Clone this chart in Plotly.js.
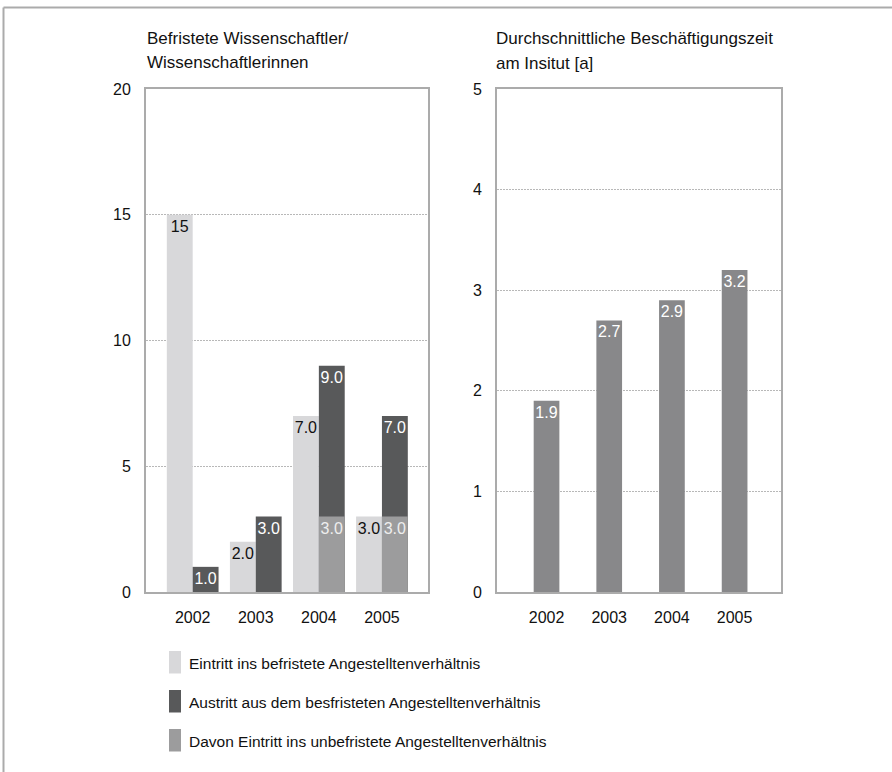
<!DOCTYPE html>
<html>
<head>
<meta charset="utf-8">
<script src="https://cdn.plot.ly/plotly-3.0.1.min.js"></script>
<style>
  html, body { margin: 0; padding: 0; background: #fff; }
  #chart { width: 892px; height: 772px; }
</style>
</head>
<body>
<div id="chart"></div>
<script>
// Jahre
const years = ['2002', '2003', '2004', '2005'];

// Befristete Wissenschaftler/Wissenschaftlerinnen (Personen)
const eintritt = [15, 2, 7, 3];
const austritt = [1, 3, 9, 7];
const davonUnbefristet = [0, 0, 3, 3];

// Durchschnittliche Beschäftigungszeit am Institut (Jahre)
const beschaeftigungszeit = [1.9, 2.7, 2.9, 3.2];

const legendLabels = [
  'Eintritt ins befristete Angestelltenverhältnis',
  'Austritt aus dem besfristeten Angestelltenverhältnis',
  'Davon Eintritt ins unbefristete Angestelltenverhältnis'
];
const titleLeft = ['Befristete Wissenschaftler/', 'Wissenschaftlerinnen'];
const titleRight = ['Durchschnittliche Beschäftigungszeit', 'am Insitut [a]'];

const FONT = '"Liberation Sans", Arial, Helvetica, sans-serif';
const C_LIGHT = '#d8d8da';
const C_DARK = '#58595a';
const C_MID = '#9c9c9d';
const C_RIGHT = '#88888a';
const C_FRAME = '#ababab';
const C_TEXT = '#111111';

const W = 892, H = 772;
const px = x => x / W;
const py = y => 1 - y / H;

function fmt(v) {
  if (!v) return '';
  return v >= 10 ? String(v) : v.toFixed(1);
}

function barText(color) {
  return {
    textposition: 'inside',
    insidetextanchor: 'end',
    textangle: 0,
    constraintext: 'none',
    insidetextfont: { family: FONT, size: 16, color: color }
  };
}

const traces = [
  Object.assign({
    type: 'bar', name: legendLabels[0], x: years, y: eintritt,
    text: eintritt.map(fmt), offset: -0.41, width: 0.41,
    marker: { color: C_LIGHT }, xaxis: 'x', yaxis: 'y', showlegend: false
  }, barText(C_TEXT)),
  Object.assign({
    type: 'bar', name: legendLabels[1], x: years, y: austritt,
    text: austritt.map(fmt), offset: 0, width: 0.41,
    marker: { color: C_DARK }, xaxis: 'x', yaxis: 'y', showlegend: false
  }, barText('#ffffff')),
  Object.assign({
    type: 'bar', name: legendLabels[2], x: years, y: davonUnbefristet,
    text: davonUnbefristet.map(fmt), offset: 0, width: 0.41,
    marker: { color: C_MID }, xaxis: 'x', yaxis: 'y', showlegend: false
  }, barText('#eeeeee')),
  Object.assign({
    type: 'bar', name: 'Beschäftigungszeit', x: years, y: beschaeftigungszeit,
    text: beschaeftigungszeit.map(fmt), offset: -0.205, width: 0.41,
    marker: { color: C_RIGHT }, xaxis: 'x2', yaxis: 'y2', showlegend: false
  }, barText('#ffffff'))
];

const yDomain = [py(592), py(89)];

const commonX = {
  type: 'category',
  showgrid: false,
  zeroline: false,
  showline: true,
  mirror: true,
  linecolor: C_FRAME,
  linewidth: 2,
  ticks: '',
  ticklabelstandoff: 10,
  tickfont: { family: FONT, size: 16, color: C_TEXT },
  fixedrange: true
};
const commonY = {
  showgrid: true,
  gridcolor: '#b8b8b8',
  griddash: '2px,1px',
  gridwidth: 1,
  zeroline: false,
  showline: true,
  mirror: true,
  linecolor: C_FRAME,
  linewidth: 2,
  ticks: '',
  ticklabelstandoff: 10,
  tickfont: { family: FONT, size: 16, color: C_TEXT },
  fixedrange: true,
  domain: yDomain
};

const annotations = [];
function addTitle(lines, xPix) {
  lines.forEach((line, i) => {
    annotations.push({
      text: line, xref: 'paper', yref: 'paper', x: px(xPix), y: py(49 + i * 24.5),
      xanchor: 'left', yanchor: 'bottom', align: 'left', showarrow: false,
      borderpad: 0,
      font: { family: FONT, size: 17, color: C_TEXT }
    });
  });
}
addTitle(titleLeft, 146);
addTitle(titleRight, 495);

const legendColors = [C_LIGHT, C_DARK, C_MID];
const shapes = [
  // Rahmen oben und links
  { type: 'line', xref: 'paper', yref: 'paper', x0: px(3.5), x1: 1, y0: py(7.5), y1: py(7.5),
    line: { color: C_FRAME, width: 2 } },
  { type: 'line', xref: 'paper', yref: 'paper', x0: px(3.5), x1: px(3.5), y0: 0, y1: py(7.5),
    line: { color: C_FRAME, width: 2 } }
];

legendLabels.forEach((label, i) => {
  const top = 651 + i * 39;
  shapes.push({
    type: 'rect', xref: 'paper', yref: 'paper',
    x0: px(169), x1: px(181), y0: py(top + 22.5), y1: py(top),
    fillcolor: legendColors[i], line: { width: 0 }
  });
  annotations.push({
    text: label, xref: 'paper', yref: 'paper', x: px(187), y: py(top + 12),
    xanchor: 'left', yanchor: 'middle', showarrow: false,
    font: { family: FONT, size: 15.5, color: C_TEXT }
  });
});

const layout = {
  width: W,
  height: H,
  margin: { l: 0, r: 0, t: 0, b: 0 },
  paper_bgcolor: '#ffffff',
  plot_bgcolor: '#ffffff',
  barmode: 'overlay',
  showlegend: false,
  xaxis: Object.assign({}, commonX, { domain: [px(146), px(428)], range: [-0.74, 3.73], anchor: 'y' }),
  yaxis: Object.assign({}, commonY, { range: [0, 20], dtick: 5, tick0: 0, anchor: 'x' }),
  xaxis2: Object.assign({}, commonX, { domain: [px(497), px(781)], range: [-0.79, 3.74], anchor: 'y2' }),
  yaxis2: Object.assign({}, commonY, { range: [0, 5], dtick: 1, tick0: 0, anchor: 'x2' }),
  annotations: annotations,
  shapes: shapes
};

Plotly.newPlot('chart', traces, layout, { staticPlot: true, displayModeBar: false });
</script>
</body>
</html>
